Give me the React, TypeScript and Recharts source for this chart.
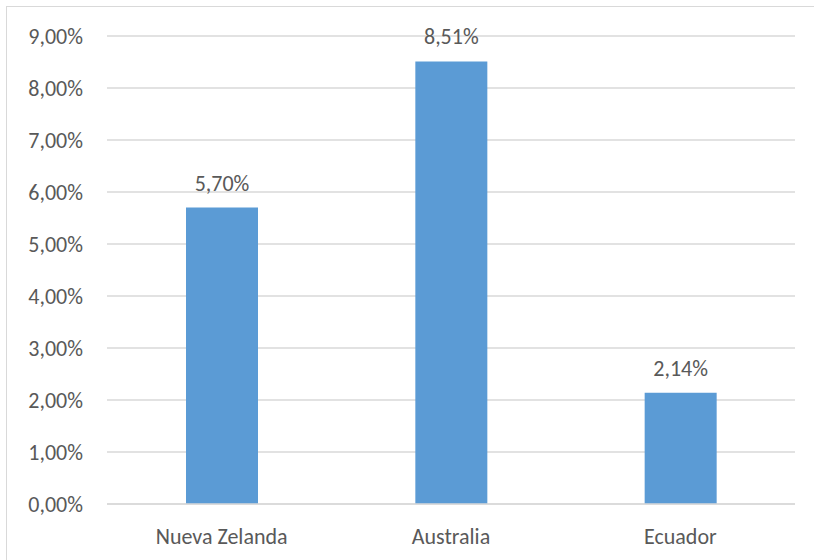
import { BarChart, Bar, XAxis, YAxis, CartesianGrid, LabelList } from "recharts";

const countries = ["Nueva Zelanda", "Australia", "Ecuador"];
const rates = [5.7, 8.51, 2.14];
const yTicks = [0, 1, 2, 3, 4, 5, 6, 7, 8, 9];

const data = countries.map((name, i) => ({ name, value: rates[i] }));

const font = "Calibri, Carlito, Lato, sans-serif";
const grey = "#595959";

const fmt = (v: number) => v.toFixed(2).replace(".", ",") + "%";

export default function App() {
  return (
    <div style={{ position: "fixed", left: 0, top: 0, width: 814, height: 560, overflow: "hidden", background: "#fff" }}>
      <div
        style={{
          position: "absolute",
          left: 6,
          top: 6,
          width: 830,
          height: 580,
          border: "1px solid #d9d9d9",
          boxSizing: "border-box",
        }}
      />
      <div style={{ position: "absolute", left: 0, top: 0 }}>
        <BarChart
          width={814}
          height={560}
          data={data}
          margin={{ top: 36, right: 19, bottom: 26, left: 7 }}
          barSize={72}
        >
          <CartesianGrid vertical={false} stroke="#d9d9d9" strokeWidth={1.3} />
          <XAxis
            dataKey="name"
            height={30}
            axisLine={{ stroke: "#d9d9d9", strokeWidth: 1.3 }}
            tickLine={false}
            tickSize={0}
            tickMargin={24}
            tick={{ fill: grey, fontSize: 22, fontFamily: font }}
          />
          <YAxis
            width={100}
            domain={[0, 9]}
            ticks={yTicks}
            interval={0}
            axisLine={false}
            tickLine={false}
            tickSize={0}
            tickMargin={24}
            tickFormatter={fmt}
            tick={{ fill: grey, fontSize: 22, fontFamily: font }}
          />
          <Bar dataKey="value" fill="#5b9bd5" isAnimationActive={false}>
            <LabelList
              dataKey="value"
              position="top"
              offset={17}
              formatter={(v: any) => fmt(Number(v))}
              style={{ fill: grey, fontSize: 22, fontFamily: font }}
            />
          </Bar>
        </BarChart>
      </div>
    </div>
  );
}
